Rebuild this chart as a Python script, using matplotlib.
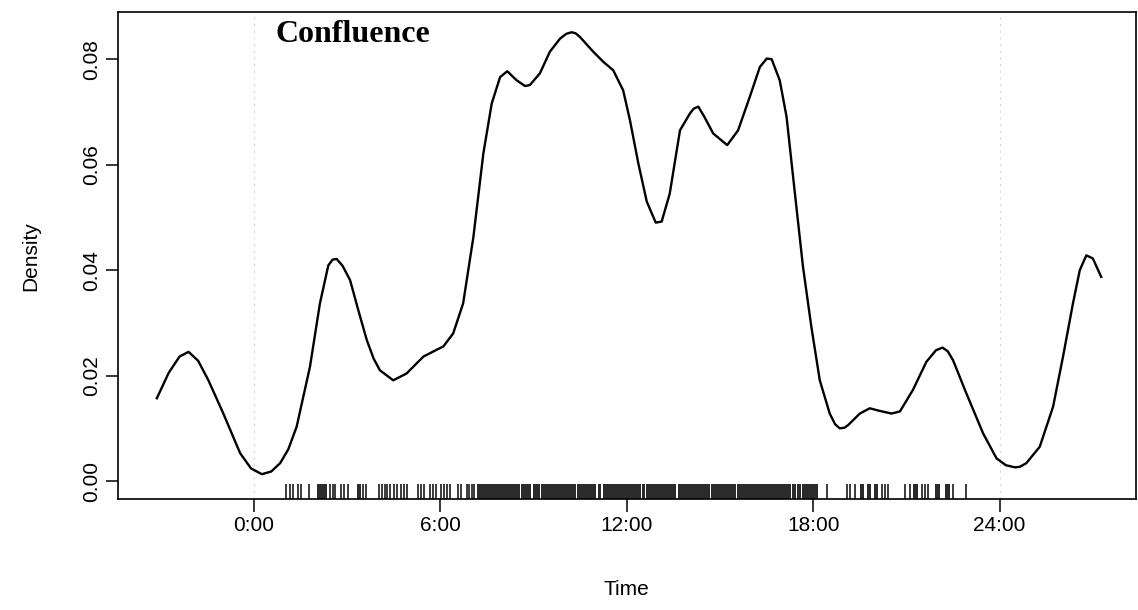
import numpy as np
import matplotlib.pyplot as plt

plt.rcParams['font.family'] = ['Liberation Sans', 'DejaVu Sans']

# density curve (hours, density)
hours = [-3.13, -2.75, -2.40, -2.11, -1.80, -1.47, -0.99, -0.45, -0.10, 0.25,
         0.55, 0.84, 1.10, 1.37, 1.80, 2.12, 2.39, 2.53, 2.66, 2.85,
         3.09, 3.35, 3.63, 3.85, 4.05, 4.48, 4.91, 5.45, 5.98, 6.09,
         6.41, 6.73, 7.06, 7.38, 7.65, 7.92, 8.15, 8.45, 8.72, 8.88,
         9.20, 9.52, 9.85, 10.05, 10.22, 10.35, 10.49, 10.92, 11.24, 11.56,
         11.88, 12.10, 12.37, 12.64, 12.93, 13.12, 13.38, 13.71, 14.03, 14.15,
         14.30, 14.50, 14.78, 15.23, 15.58, 15.96, 16.28, 16.50, 16.66, 16.92,
         17.14, 17.41, 17.67, 17.94, 18.21, 18.53, 18.70, 18.85, 19.00, 19.12,
         19.50, 19.82, 20.14, 20.52, 20.79, 21.21, 21.64, 21.95, 22.16, 22.33,
         22.50, 22.93, 23.47, 23.90, 24.20, 24.49, 24.65, 24.86, 25.29, 25.72,
         26.04, 26.36, 26.58, 26.79, 27.00, 27.27]
density = [0.0157, 0.0205, 0.0236, 0.0245, 0.0228, 0.0191, 0.0128, 0.0053, 0.0024, 0.0013,
           0.0018, 0.0034, 0.0060, 0.0103, 0.0217, 0.0337, 0.0409, 0.0420, 0.0421, 0.0408,
           0.0381, 0.0325, 0.0267, 0.0232, 0.0210, 0.0191, 0.0204, 0.0236, 0.0252, 0.0255,
           0.0280, 0.0337, 0.0463, 0.0621, 0.0716, 0.0766, 0.0777, 0.0760, 0.0749, 0.0751,
           0.0773, 0.0814, 0.0839, 0.0848, 0.0851, 0.0849, 0.0842, 0.0814, 0.0795, 0.0779,
           0.0741, 0.0684, 0.0602, 0.0530, 0.0490, 0.0492, 0.0545, 0.0665, 0.0697, 0.0706,
           0.0710, 0.0690, 0.0659, 0.0637, 0.0665, 0.0729, 0.0785, 0.0801, 0.0800, 0.0760,
           0.0691, 0.0545, 0.0406, 0.0292, 0.0191, 0.0128, 0.0108, 0.0100, 0.0101, 0.0106,
           0.0128, 0.0138, 0.0133, 0.0128, 0.0132, 0.0173, 0.0226, 0.0248, 0.0253, 0.0246,
           0.0229, 0.0166, 0.0090, 0.0043, 0.0030, 0.0026, 0.0027, 0.0034, 0.0065, 0.0141,
           0.0236, 0.0337, 0.0400, 0.0428, 0.0422, 0.0387]

# single rug ticks (hours)
rug_ticks = [1.02, 1.16, 1.25, 1.41, 1.50, 1.77, 2.44, 2.53, 2.61, 2.81,
             2.89, 3.02, 3.51, 3.59, 4.02, 4.12, 4.20, 4.29, 4.37, 4.50,
             4.59, 4.74, 4.82, 4.91, 5.27, 5.38, 5.46, 5.66, 5.76, 5.85,
             6.02, 6.11, 6.21, 6.32, 6.56, 6.66, 6.84, 6.92, 7.01, 7.09,
             18.43, 19.07, 19.18, 19.34, 20.20, 20.31, 20.41, 20.95, 21.11, 21.49,
             21.59, 21.70, 22.50, 22.93]
# stretches where the rug ticks merge into a solid band (start, end)
rug_start = [2.01, 3.30, 7.18, 8.60, 8.97, 9.24, 10.41, 11.06, 11.22, 12.50,
             12.61, 13.63, 14.70, 15.56, 17.33, 17.49, 17.65, 19.50, 19.74, 19.95,
             21.22, 21.91, 22.24]
rug_end = [2.36, 3.45, 8.55, 8.93, 9.20, 10.37, 11.02, 11.18, 12.46, 12.57,
           13.59, 14.66, 15.52, 17.29, 17.45, 17.61, 18.16, 19.63, 19.85, 20.09,
           21.38, 22.07, 22.40]

xticks = [0, 6, 12, 18, 24]
xlabels = ['0:00', '6:00', '12:00', '18:00', '24:00']
yticks = [0.00, 0.02, 0.04, 0.06, 0.08]

fig = plt.figure(figsize=(11.38, 6.10), dpi=100)
ax = fig.add_axes([0.1037, 0.182, 0.8943, 0.798])

# faint reference lines at midnight
for v in [0, 24]:
    ax.axvline(v, color='#d8d8d8', lw=0.8, ls=(0, (2, 4)), zorder=0)

ax.plot(hours, density, color='black', lw=1.7, solid_joinstyle='round')

# rug
trans = ax.get_xaxis_transform()
ax.vlines(rug_ticks, 0, 0.03, transform=trans, color='#1a1a1a', lw=1.2)
spans = [(s, e - s) for s, e in zip(rug_start, rug_end)]
ax.broken_barh(spans, (0, 0.03), transform=trans, color='#2b2b2b', lw=0)

ax.set_xlim(-4.38, 28.38)
ax.set_ylim(-0.0034, 0.0889)

ax.set_xticks(xticks)
ax.set_xticklabels(xlabels)
ax.set_yticks(yticks)
ax.set_yticklabels([f'{v:.2f}' for v in yticks], rotation=90, va='center')
ax.tick_params(axis='both', labelsize=15, length=9, width=1.1, pad=3, color='black')

ax.set_xlabel('Time', fontsize=15, labelpad=33)
ax.set_ylabel('Density', fontsize=15, labelpad=30)

for s in ax.spines.values():
    s.set_linewidth(1.2)

ax.text(0.68, 0.0846, 'Confluence', fontsize=23, fontweight='bold',
        family=['Liberation Serif', 'DejaVu Serif'], ha='left', va='center')

fig.savefig('out.png', dpi=100)
